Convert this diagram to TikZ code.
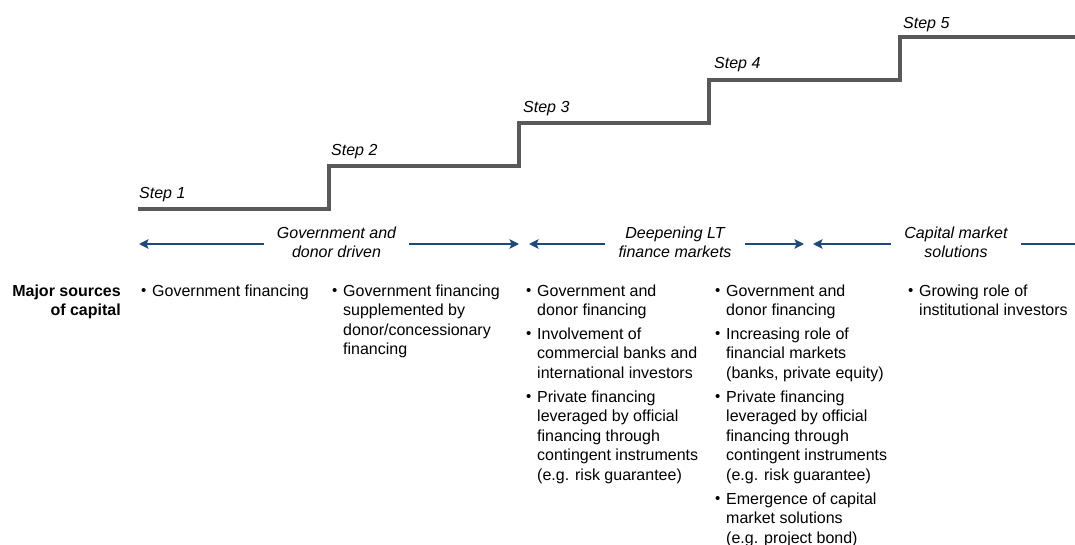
\documentclass[tikz,border=0pt]{standalone}
\usepackage{fontspec}
\setmainfont{Liberation Sans}
\usepackage{xcolor}
\usetikzlibrary{arrows.meta}
\definecolor{stairGray}{RGB}{89,89,89}
\definecolor{phaseNavy}{RGB}{31,73,125}
\newcommand{\Bul}{\makebox[11pt][l]{\raisebox{0.8pt}{\fontsize{15}{15}\selectfont\textbullet}}}
\newcommand{\BodyFont}{\fontsize{16}{19.6}\selectfont}

\begin{document}
\begin{tikzpicture}[x=1pt,y=-1pt,
  stairline/.style={draw=stairGray,line width=3.2pt},
  steplabel/.style={anchor=base west,inner sep=0pt,font=\BodyFont\itshape},
  phaselabel/.style={inner xsep=13pt,inner ysep=0pt,font=\BodyFont\itshape},
  phasearrow/.style={draw=phaseNavy,line width=2.6pt,-{Stealth[length=9.5pt,width=9.5pt,inset=2pt]}},
  bulletcol/.style={anchor=base west,inner sep=0pt,font=\BodyFont}]
\useasboundingbox (0,0) rectangle (1075,545);

% staircase
\draw[stairline] (138,209) -| (329,166) -| (519,123) -| (709,80) -| (900,37) -- (1075,37);
\foreach \n/\x/\y in {1/139/199, 2/331/156, 3/523/113, 4/714/69, 5/903/29}
  \node[steplabel] (step\n) at (\x,\y) {Step \n};

% phases
\node[phaselabel] (phaseA) at (336.5,244) {\begin{tabular}{@{}c@{}}Government and\\ donor driven\end{tabular}};
\node[phaselabel] (phaseB) at (675,244) {\begin{tabular}{@{}c@{}}Deepening LT\\ finance markets\end{tabular}};
\node[phaselabel] (phaseC) at (956,244) {\begin{tabular}{@{}c@{}}Capital market\\ solutions\end{tabular}};
\coordinate (endA1) at (139,244);
\coordinate (endA2) at (519,244);
\coordinate (endB1) at (529,244);
\coordinate (endB2) at (804,244);
\coordinate (endC1) at (813,244);
\coordinate (endC2) at (1075,244);
\draw[phasearrow] (phaseA.west) -- (endA1);
\draw[phasearrow] (phaseA.east) -- (endA2);
\draw[phasearrow] (phaseB.west) -- (endB1);
\draw[phasearrow] (phaseB.east) -- (endB2);
\draw[phasearrow] (phaseC.west) -- (endC1);
\draw[draw=phaseNavy,line width=2.6pt] (phaseC.east) -- (endC2);

% sources of capital
\node[anchor=base east,inner sep=0pt,font=\BodyFont\bfseries] (sources) at (121,296)
  {\begin{tabular}[t]{@{}r@{}}Major sources\\ of capital\end{tabular}};
\node[bulletcol] (colA) at (141,296) {\begin{tabular}[t]{@{}l@{}l@{}}
  \Bul & Government financing
\end{tabular}};
\node[bulletcol] (colB) at (332,296) {\begin{tabular}[t]{@{}l@{}l@{}}
  \Bul & Government financing\\
       & supplemented by\\
       & donor/concessionary\\
       & financing
\end{tabular}};
\node[bulletcol] (colC) at (526,296) {\begin{tabular}[t]{@{}l@{}l@{}}
  \Bul & Government and\\
       & donor financing\\[4pt]
  \Bul & Involvement of\\
       & commercial banks and\\
       & international investors\\[4pt]
  \Bul & Private financing\\
       & leveraged by official\\
       & financing through\\
       & contingent instruments\\
       & (e.g. risk guarantee)
\end{tabular}};
\node[bulletcol] (colD) at (715,296) {\begin{tabular}[t]{@{}l@{}l@{}}
  \Bul & Government and\\
       & donor financing\\[4pt]
  \Bul & Increasing role of\\
       & financial markets\\
       & (banks, private equity)\\[4pt]
  \Bul & Private financing\\
       & leveraged by official\\
       & financing through\\
       & contingent instruments\\
       & (e.g. risk guarantee)\\[4pt]
  \Bul & Emergence of capital\\
       & market solutions\\
       & (e.g. project bond)
\end{tabular}};
\node[bulletcol] (colE) at (908,296) {\begin{tabular}[t]{@{}l@{}l@{}}
  \Bul & Growing role of\\
       & institutional investors
\end{tabular}};
\end{tikzpicture}
\end{document}
